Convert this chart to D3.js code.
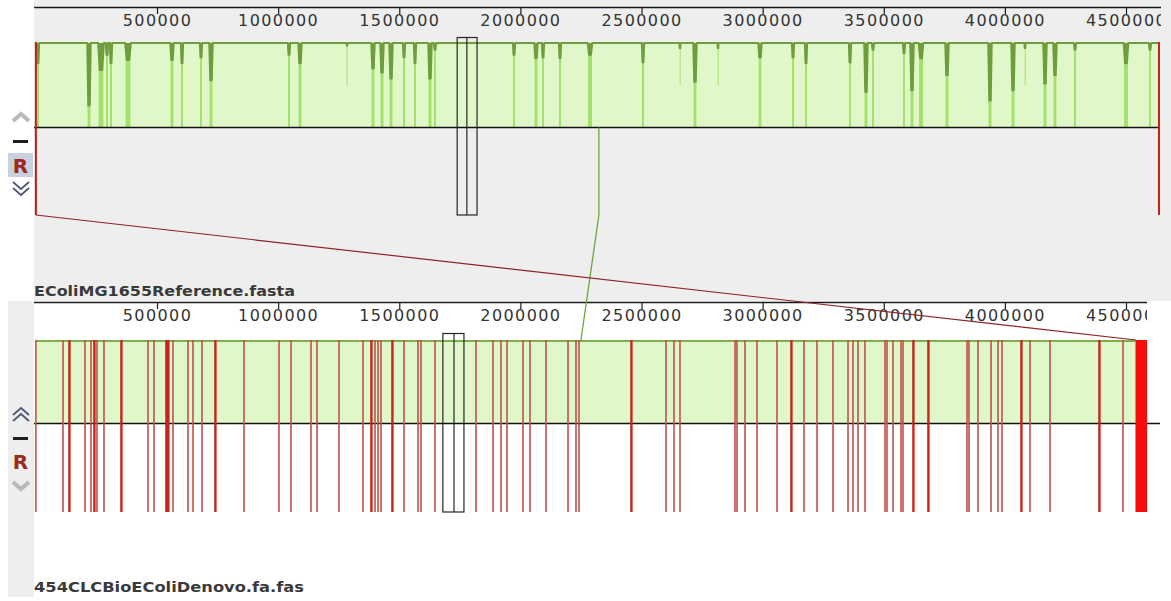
<!DOCTYPE html>
<html>
<head>
<meta charset="utf-8">
<script src="https://cdn.jsdelivr.net/npm/d3@7"></script>
<style>
  body { margin: 0; background: #ffffff; }
  svg { display: block; }
</style>
</head>
<body>
<svg id="view" width="1171" height="601"></svg>
<script>
// ---- genomes -------------------------------------------------------------
const refName = "EColiMG1655Reference.fasta";
const asmName = "454CLCBioEColiDenovo.fa.fas";
const refLength = 4639675;
const asmLength = 4587000;

// ---- ruler ---------------------------------------------------------------
const tickValues = [500000, 1000000, 1500000, 2000000, 2500000, 3000000, 3500000, 4000000, 4500000];
const tickLabels = ["500000", "1000000", "1500000", "2000000", "2500000", "3000000", "3500000", "4000000", "4500000"];

// ---- locally collinear blocks: [start, end] in each genome ---------------
const greenLcbRef = [4000, 4636000];
const greenLcbAsm = [0, 4539000];
const redLcbRef = [[0, 4000], [4636000, 4639675]];
const redLcbAsm = [4539000, 4587000];

// connecting lines: reference anchor -> assembly anchor
const greenLinkRef = 2324000;
const greenLinkAsm = 2250000;
const redLinkRef = 0;
const redLinkAsm = 4541000;

// ---- similarity profile of the reference: [position, similarity, width] --
const refDips = [
  [8700, 0.76, 8000], [219200, 0.26, 12000], [268700, 0.68, 20000], [293500, 0.86, 8000],
  [310000, 0.76, 8000], [380200, 0.80, 20000], [561800, 0.80, 12000], [603100, 0.76, 8000],
  [681500, 0.83, 8000], [722800, 0.56, 12000], [1044800, 0.86, 8000], [1090200, 0.76, 12000],
  [1284200, 0.97, 4000], [1391500, 0.70, 12000], [1428700, 0.65, 12000], [1465900, 0.58, 12000],
  [1519500, 0.83, 8000], [1564900, 0.76, 8000], [1626800, 0.58, 12000], [1647500, 0.92, 8000],
  [1973600, 0.86, 8000], [2064400, 0.82, 12000], [2093300, 0.83, 8000], [2163500, 0.82, 8000],
  [2287300, 0.86, 16000], [2506100, 0.77, 8000], [2658800, 0.94, 4000], [2720800, 0.54, 12000],
  [2815700, 0.94, 4000], [2989100, 0.83, 12000], [3125300, 0.83, 8000], [3179000, 0.76, 8000],
  [3360600, 0.77, 8000], [3426600, 0.42, 12000], [3455500, 0.92, 8000], [3583500, 0.88, 8000],
  [3616500, 0.44, 12000], [3653700, 0.82, 16000], [3761000, 0.62, 12000], [3938500, 0.32, 12000],
  [4033500, 0.44, 12000], [4083000, 0.94, 4000], [4165600, 0.52, 12000], [4206800, 0.62, 12000],
  [4289400, 0.92, 8000], [4499900, 0.76, 16000], [4599000, 0.92, 8000]
];

// ---- contig boundaries in the assembly: [position, span] -----------------
const contigBreaks = [
  [0, 0], [111900, 0], [136600, 10000], [202700, 0], [227500, 0], [239800, 10000],
  [252200, 0], [281100, 0], [351300, 10000], [462700, 0], [487500, 0], [537100, 18000],
  [565900, 0], [627900, 0], [648500, 0], [685700, 0], [739300, 10000], [859000, 0],
  [1003500, 0], [1053100, 0], [1135600, 0], [1160400, 0], [1251200, 0], [1350300, 0],
  [1383300, 10000], [1399800, 0], [1412200, 0], [1424600, 0], [1470000, 10000], [1519500, 0],
  [1577300, 0], [1589700, 0], [1647500, 0], [1816700, 0], [1886900, 0], [1919900, 0],
  [1944700, 0], [2010800, 0], [2039600, 0], [2105700, 0], [2196500, 0], [2229500, 0],
  [2241900, 0], [2456600, 10000], [2601000, 0], [2634100, 0], [2658800, 0], [2885900, 0],
  [2894100, 0], [2927200, 0], [2976700, 0], [3059300, 0], [3117100, 10000], [3170700, 0],
  [3224400, 0], [3290400, 0], [3352400, 0], [3373000, 0], [3393700, 0], [3422500, 0],
  [3505100, 0], [3513300, 0], [3538100, 0], [3571100, 0], [3579400, 0], [3620700, 10000],
  [3682600, 10000], [3843600, 0], [3851800, 0], [3889000, 0], [3942700, 0], [3971600, 0],
  [3988100, 0], [4066500, 10000], [4103600, 0], [4186200, 0], [4388500, 10000], [4487500, 0]
];

// ---- cursor boxes: [start, middle, end] ----------------------------------
const refCursor = [1739000, 1779000, 1821000];
const asmCursor = [1680000, 1726000, 1767000];

// ==========================================================================
const svg = d3.select("#view");
const bpPerPixel = 4128;
const x0 = 35.9;
const xRef = d3.scaleLinear().domain([0, refLength]).range([x0, x0 + refLength / bpPerPixel]);
const xAsm = d3.scaleLinear().domain([0, asmLength]).range([x0, x0 + asmLength / bpPerPixel]);

const refPanel = { axisY: 7, blockTop: 42, center: 127.5, blockBottom: 215, nameY: 296, clipRight: 1161 };
const asmPanel = { axisY: 302, blockTop: 340, center: 423.5, blockBottom: 512, nameY: 592, clipRight: 1147 };

const PALE = "#e0f8c9", STRIPE = "#a4e16a", OLIVE = "#6f9d3d";

// panel backgrounds
svg.append("rect").attr("x", 34).attr("y", 0).attr("width", 1137).attr("height", 301).attr("fill", "#eeeeee");
svg.append("rect").attr("x", 8).attr("y", 301).attr("width", 26).attr("height", 296).attr("fill", "#eeeeee");

const defs = svg.append("defs");
[["clipRef", refPanel], ["clipAsm", asmPanel]].forEach(([id, p]) => {
  defs.append("clipPath").attr("id", id)
    .append("rect").attr("x", 0).attr("y", -5).attr("width", p.clipRight).attr("height", 40);
});

// ruler for a panel
function drawRuler(p, scale, clipId) {
  const axis = d3.axisBottom(scale)
    .tickValues(tickValues)
    .tickFormat((d, i) => tickLabels[i])
    .tickSizeInner(7)
    .tickSizeOuter(0)
    .tickPadding(1);
  const g = svg.append("g")
    .attr("transform", `translate(0,${p.axisY})`)
    .attr("clip-path", `url(#${clipId})`)
    .call(axis);
  g.select(".domain").attr("stroke", "#1a1a1a").attr("stroke-width", 1.3)
    .attr("d", `M34,0.5H${p.clipRight}`);
  g.selectAll(".tick line").attr("stroke", "#1a1a1a").attr("stroke-width", 1.2);
  g.selectAll(".tick text")
    .attr("fill", "#333333")
    .style("font-family", "'DejaVu Sans', sans-serif")
    .style("font-size", "16px")
    .style("letter-spacing", "1.4px");
}
drawRuler(refPanel, xRef, "clipRef");
drawRuler(asmPanel, xAsm, "clipAsm");

// ---- reference block -----------------------------------------------------
const ySim = d3.scaleLinear().domain([0, 1]).range([refPanel.center, refPanel.blockTop + 1]);
const gRef = svg.append("g");
gRef.append("rect")
  .attr("x", xRef(greenLcbRef[0])).attr("y", refPanel.blockTop)
  .attr("width", xRef(greenLcbRef[1]) - xRef(greenLcbRef[0]))
  .attr("height", refPanel.center - refPanel.blockTop)
  .attr("fill", PALE);

gRef.selectAll("rect.stripe").data(refDips).join("rect")
  .attr("class", "stripe")
  .attr("x", d => xRef(d[0] - d[2] / 2))
  .attr("width", d => Math.max(1.4, xRef(d[2]) - xRef(0)))
  .attr("y", d => d[1] > 0.93 ? ySim(0.98) : refPanel.blockTop + 3)
  .attr("height", d => d[1] > 0.93 ? ySim(0.5) - ySim(0.98) : refPanel.center - refPanel.blockTop - 3)
  .attr("fill", STRIPE)
  .attr("opacity", d => d[1] > 0.93 ? 0.7 : 1);

// profile: each dip as a narrow trough below full similarity
const profilePts = [[greenLcbRef[0], 1]];
refDips.forEach(([p, s, w]) => {
  profilePts.push([p - w * 0.6, 1], [p - w / 4, s], [p + w / 4, s], [p + w * 0.6, 1]);
});
profilePts.push([greenLcbRef[1], 1]);

gRef.append("path")
  .datum(profilePts)
  .attr("d", d3.area().x(d => xRef(d[0])).y0(ySim(1)).y1(d => ySim(d[1])))
  .attr("fill", OLIVE);
gRef.append("path")
  .datum(profilePts)
  .attr("d", d3.line().x(d => xRef(d[0])).y(d => ySim(d[1])))
  .attr("fill", "none").attr("stroke", OLIVE).attr("stroke-width", 2)
  .attr("stroke-linejoin", "round");

gRef.append("line")
  .attr("x1", 34).attr("x2", 1160).attr("y1", refPanel.center).attr("y2", refPanel.center)
  .attr("stroke", "#111").attr("stroke-width", 1.4);

// red block pieces at both ends of the reference
gRef.selectAll("rect.redref").data(redLcbRef).join("rect")
  .attr("class", "redref")
  .attr("x", d => xRef(d[0]) - 1)
  .attr("width", d => Math.max(2, xRef(d[1]) - xRef(d[0])))
  .attr("y", refPanel.blockTop)
  .attr("height", refPanel.blockBottom - refPanel.blockTop)
  .attr("fill", "#c0201a");

// ---- assembly block ------------------------------------------------------
const gAsm = svg.append("g");
gAsm.append("rect")
  .attr("x", xAsm(greenLcbAsm[0])).attr("y", asmPanel.blockTop)
  .attr("width", xAsm(greenLcbAsm[1]) - xAsm(greenLcbAsm[0]))
  .attr("height", asmPanel.center - asmPanel.blockTop)
  .attr("fill", PALE);
gAsm.append("line")
  .attr("x1", xAsm(greenLcbAsm[0])).attr("x2", xAsm(greenLcbAsm[1]))
  .attr("y1", asmPanel.blockTop + 1).attr("y2", asmPanel.blockTop + 1)
  .attr("stroke", "#7fae4a").attr("stroke-width", 2);
gAsm.append("line")
  .attr("x1", 34).attr("x2", 1160).attr("y1", asmPanel.center).attr("y2", asmPanel.center)
  .attr("stroke", "#111").attr("stroke-width", 1.4);

gAsm.selectAll("rect.contig").data(contigBreaks).join("rect")
  .attr("class", "contig")
  .attr("x", d => xAsm(d[0]) - 0.8)
  .attr("width", d => Math.max(1.6, xAsm(d[1]) - xAsm(0)))
  .attr("y", asmPanel.blockTop)
  .attr("height", asmPanel.blockBottom - asmPanel.blockTop)
  .attr("fill", d => d[1] > 0 ? "#c8231e" : "#c2514c");

gAsm.append("rect")
  .attr("x", xAsm(redLcbAsm[0])).attr("y", asmPanel.blockTop)
  .attr("width", xAsm(redLcbAsm[1]) - xAsm(redLcbAsm[0]))
  .attr("height", asmPanel.blockBottom - asmPanel.blockTop)
  .attr("fill", "#f50d0d");

// ---- cursor boxes --------------------------------------------------------
function drawCursor(c, scale, y0, y1) {
  const g = svg.append("g").attr("fill", "none").attr("stroke", "#262626").attr("stroke-width", 1.2);
  g.append("rect").attr("x", scale(c[0])).attr("y", y0)
    .attr("width", scale(c[2]) - scale(c[0])).attr("height", y1 - y0);
  g.append("line").attr("x1", scale(c[1])).attr("x2", scale(c[1])).attr("y1", y0).attr("y2", y1);
}
drawCursor(refCursor, xRef, 37.5, refPanel.blockBottom);
drawCursor(asmCursor, xAsm, 333.5, asmPanel.blockBottom);

// ---- genome names --------------------------------------------------------
[[refName, refPanel.nameY, 261], [asmName, asmPanel.nameY, 270]].forEach(([name, y, len]) => {
  svg.append("text")
    .attr("x", 34).attr("y", y)
    .attr("textLength", len).attr("lengthAdjust", "spacingAndGlyphs")
    .style("font-family", "'DejaVu Sans', sans-serif")
    .style("font-weight", "bold").style("font-size", "14.5px")
    .attr("fill", "#3a3a3a")
    .text(name);
});

// ---- panel controls ------------------------------------------------------
function chevron(cy, dir, enabled) {
  const s = dir === "up" ? -1 : 1;
  if (enabled) {
    const g = svg.append("g").attr("fill", "none").attr("stroke", "#4f5777").attr("stroke-width", 1.8)
      .attr("stroke-linejoin", "miter");
    [-3, 3].forEach(o => {
      g.append("path").attr("d", `M13,${cy + o - s * 4} L21,${cy + o + s * 3} L29,${cy + o - s * 4}`);
    });
  } else {
    svg.append("path")
      .attr("d", `M13,${cy - s * 3} L21,${cy + s * 4} L29,${cy - s * 3}`)
      .attr("fill", "none").attr("stroke", "#b9b9bb").attr("stroke-width", 4);
  }
}
function controls(cyUp, cyMinus, cyR, cyDown, upOn, downOn, highlight) {
  chevron(cyUp, "up", upOn);
  svg.append("rect").attr("x", 13).attr("y", cyMinus - 1.5).attr("width", 15).attr("height", 3).attr("fill", "#1e1e1e");
  if (highlight) {
    svg.append("rect").attr("x", 8).attr("y", cyR - 12).attr("width", 25).attr("height", 24).attr("fill", "#c9d0e0");
  }
  svg.append("text")
    .attr("x", 20.5).attr("y", cyR + 7.5).attr("text-anchor", "middle")
    .style("font-family", "'DejaVu Sans', sans-serif").style("font-weight", "bold").style("font-size", "20px")
    .attr("fill", "#9c2a1c").text("R");
  chevron(cyDown, "down", downOn);
}
controls(118, 141.5, 165, 189, false, true, true);
controls(414, 438.5, 461, 485, true, false, false);

// ---- connecting lines between genomes ------------------------------------
svg.append("path")
  .attr("d", `M${xRef(greenLinkRef)},${refPanel.center} L${xRef(greenLinkRef)},${refPanel.blockBottom} L${xAsm(greenLinkAsm)},${asmPanel.blockTop}`)
  .attr("fill", "none").attr("stroke", "#6ea63a").attr("stroke-width", 1.3);
svg.append("path")
  .attr("d", `M${xRef(redLinkRef)},${refPanel.blockBottom} L${xAsm(redLinkAsm)},${asmPanel.blockTop}`)
  .attr("fill", "none").attr("stroke", "#8f2222").attr("stroke-width", 1.2);
</script>
</body>
</html>
